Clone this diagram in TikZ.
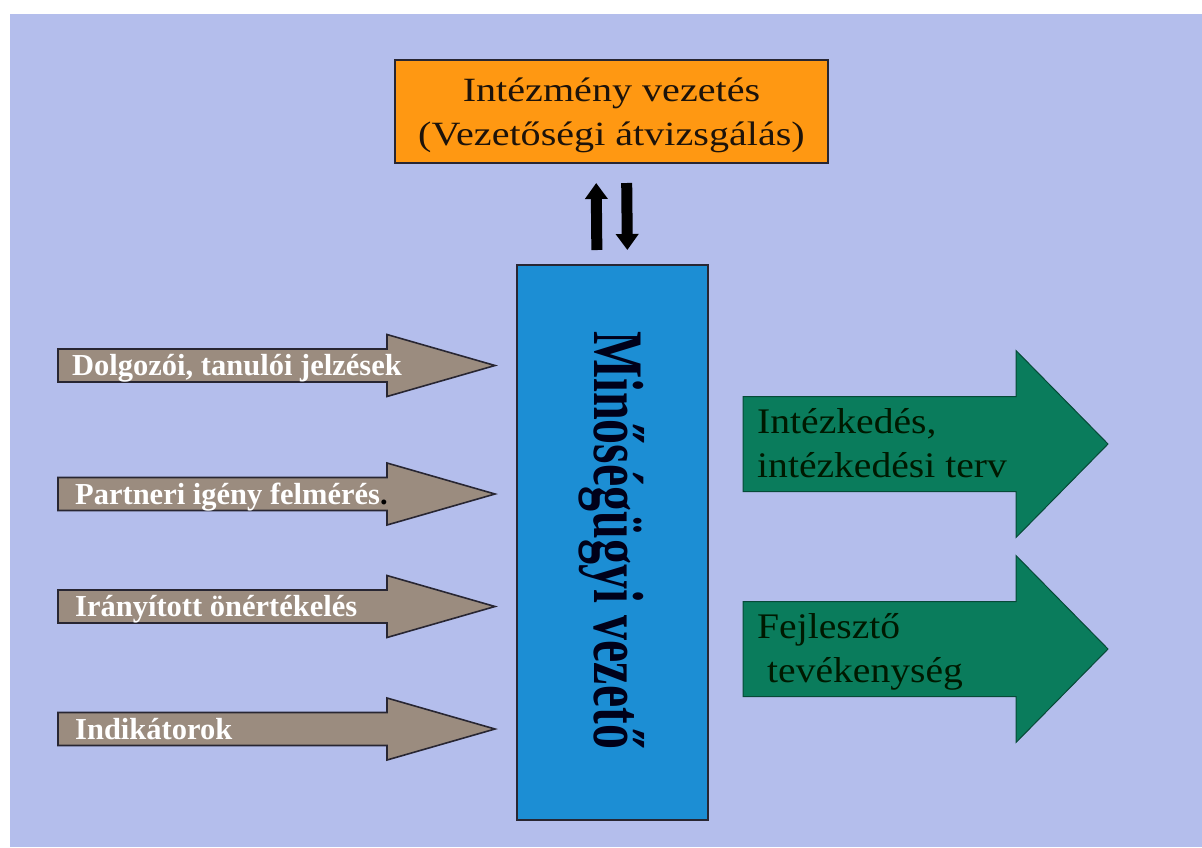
\documentclass[tikz,border=0pt]{standalone}
\usepackage{fontspec}
\setmainfont{Liberation Serif}
\usetikzlibrary{arrows.meta,calc}
\definecolor{bgblue}{RGB}{180,190,236}
\definecolor{orangebox}{RGB}{255,152,18}
\definecolor{bluebox}{RGB}{28,142,212}
\definecolor{grayarr}{RGB}{155,140,127}
\definecolor{greenarr}{RGB}{10,124,92}
\definecolor{darkline}{RGB}{40,38,50}
\newcommand\hstr[2]{\scalebox{#1}[1]{#2}}
\newcommand\inarrow[1]{%
  \filldraw[fill=grayarr,draw=darkline,line width=1.6pt,line join=miter]
    (58,#1-16.5) -- (387,#1-16.5) -- (387,#1-31) -- (495,#1) -- (387,#1+31)
    -- (387,#1+16.5) -- (58,#1+16.5) -- cycle;}
\newcommand\outarrow[1]{%
  \filldraw[fill=greenarr,draw=greenarr!60!black,line width=1pt,line join=miter]
    (743,#1-47.5) -- (1016,#1-47.5) -- (1016,#1-93.5) -- (1108,#1) -- (1016,#1+93.5)
    -- (1016,#1+47.5) -- (743,#1+47.5) -- cycle;}
\begin{document}
\begin{tikzpicture}[x=1pt,y=-1pt,
  boxstyle/.style={draw=darkline,line width=1.4pt,inner sep=0pt,outer sep=0pt},
  orgtext/.style={text=black!85!brown,font=\fontsize{34}{40}\selectfont,inner sep=0pt,anchor=base},
  intext/.style={text=white,font=\bfseries\fontsize{30.5}{36}\selectfont,inner sep=0pt,anchor=base west},
  outtext/.style={text=black!90!green,font=\fontsize{36}{42}\selectfont,inner sep=0pt,anchor=base west},
  qmtext/.style={text=black!90!blue,font=\bfseries\fontsize{50}{56}\selectfont,inner sep=0pt},
  bigarrow/.style={line width=11pt,-{Triangle[width=22pt,length=16pt]}}
]
\useasboundingbox (0,0) rectangle (1202,847);
\fill[bgblue] (10,14) rectangle (1202,847);

% top box
\node[boxstyle,fill=orangebox,minimum width=433pt,minimum height=103pt] (org) at (611.5,111.5) {};
\node[orgtext] (orgl1) at (611.5,101) {\hstr{1.18}{Intézmény vezetés}};
\node[orgtext] (orgl2) at (611.5,145) {\hstr{1.18}{(Vezetőségi átvizsgálás)}};

% central box
\node[boxstyle,fill=bluebox,minimum width=191pt,minimum height=555pt] (qm) at (612.5,542.5) {};
\node[qmtext,rotate=-90] (qml) at (611.5,540) {\scalebox{1}[1.42]{Minőségügyi vezető}};

% up/down arrows
\draw[bigarrow,shorten <=15pt,shorten >=20pt] ($(qm.north)+(-15.5,0)$) -- ($(org.south)+(-15.5,0)$);
\draw[bigarrow,shorten <=20pt,shorten >=15pt] ($(org.south)+(15,0)$) -- ($(qm.north)+(15,0)$);

% input arrows
\inarrow{365.5}
\inarrow{494}
\inarrow{606.5}
\inarrow{729}
\node[intext] (in1) at (72,375) {Dolgozói, tanulói jelzések};
\node[intext] (in2) at (75,504) {Partneri igény felmérés{\color{black}.}};
\node[intext] (in3) at (75,616) {Irányított önértékelés};
\node[intext] (in4) at (75,739) {Indikátorok};

% output arrows
\outarrow{444}
\outarrow{649}
\node[outtext] (out1a) at (757,433) {\hstr{1.1}{Intézkedés,}};
\node[outtext] (out1b) at (757,477) {\hstr{1.1}{intézkedési terv}};
\node[outtext] (out2a) at (757,638) {\hstr{1.1}{Fejlesztő}};
\node[outtext] (out2b) at (767,682) {\hstr{1.1}{tevékenység}};
\end{tikzpicture}
\end{document}
